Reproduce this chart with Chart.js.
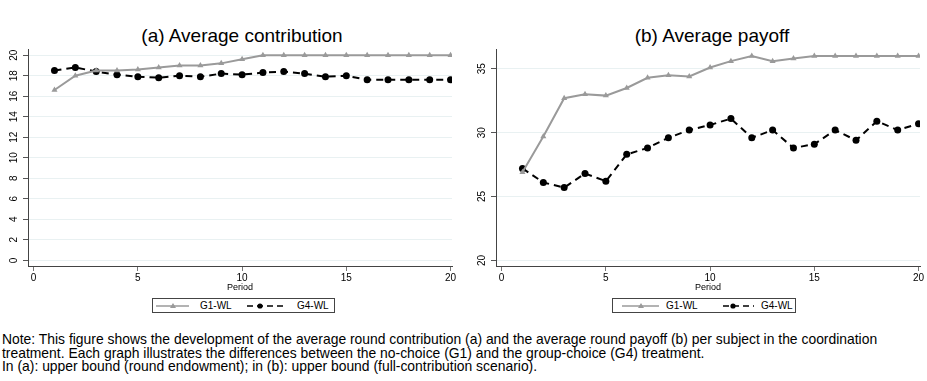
<!DOCTYPE html>
<html>
<head>
<meta charset="utf-8">
<script src="https://cdn.jsdelivr.net/npm/chart.js"></script>
<style>
    body { margin: 0; background: #fff; font-family: "Liberation Sans", Arial, sans-serif; }
    #wrap { position: relative; width: 927px; height: 381px; overflow: hidden; }
    .title { position: absolute; top: 26px; font-size: 19px; line-height: 19px; color: #000; white-space: nowrap; transform: translateX(-50%); }
    canvas { position: absolute; }
    .legend { position: absolute; top: 298px; height: 15px; border: 1px solid #444; box-sizing: border-box; }
    .legend svg { position: absolute; top: 0; }
    .legend span { position: absolute; top: 1px; font-size: 10px; line-height: 12px; color: #000; }
    #note { position: absolute; left: 2px; top: 333px; font-size: 13.9px; line-height: 13.5px; color: #000; white-space: nowrap; }
</style>
</head>
<body>
<div id="wrap">
    <div class="title" style="left: 242px;">(a) Average contribution</div>
    <div class="title" style="left: 712px;">(b) Average payoff</div>

    <canvas id="chartA" width="463" height="255" style="left: 0; top: 40px;"></canvas>
    <canvas id="chartB" width="464" height="255" style="left: 463px; top: 40px;"></canvas>

    <!-- 범례 (왼쪽) -->
    <div class="legend" style="left: 152px; width: 183px;">
        <svg width="140" height="14" style="left: 0;">
            <line x1="3" y1="7" x2="36" y2="7" stroke="#9a9a9a" stroke-width="1.5"/>
            <polygon points="20,4 23,9 17,9" fill="#9a9a9a"/>
            <line x1="94" y1="7" x2="130" y2="7" stroke="#000" stroke-width="1.5" stroke-dasharray="6,4"/>
            <circle cx="107" cy="7" r="2.6" fill="#000"/>
        </svg>
        <span style="left: 47px;">G1-WL</span>
        <span style="left: 144px;">G4-WL</span>
    </div>

    <!-- 범례 (오른쪽) -->
    <div class="legend" style="left: 612px; width: 184px;">
        <svg width="150" height="14" style="left: 0;">
            <line x1="9" y1="7" x2="46" y2="7" stroke="#9a9a9a" stroke-width="1.5"/>
            <polygon points="28,4 31,9 25,9" fill="#9a9a9a"/>
            <line x1="110" y1="7" x2="141" y2="7" stroke="#000" stroke-width="1.5" stroke-dasharray="6,4"/>
            <circle cx="120" cy="7" r="2.6" fill="#000"/>
        </svg>
        <span style="left: 53px;">G1-WL</span>
        <span style="left: 148px;">G4-WL</span>
    </div>

    <div id="note">
        Note: This figure shows the development of the average round contribution (a) and the average round payoff (b) per subject in the coordination<br>
        treatment. Each graph illustrates the differences between the no-choice (G1) and the group-choice (G4) treatment.<br>
        In (a): upper bound (round endowment); in (b): upper bound (full-contribution scenario).
    </div>
</div>

<script>
// 데이터
const periods = [1, 2, 3, 4, 5, 6, 7, 8, 9, 10, 11, 12, 13, 14, 15, 16, 17, 18, 19, 20];
const contribG1 = [16.6, 18.0, 18.5, 18.5, 18.6, 18.8, 19.0, 19.0, 19.2, 19.6, 20.0, 20.0, 20.0, 20.0, 20.0, 20.0, 20.0, 20.0, 20.0, 20.0];
const contribG4 = [18.5, 18.8, 18.4, 18.1, 17.9, 17.8, 18.0, 17.9, 18.2, 18.1, 18.3, 18.4, 18.2, 17.9, 18.0, 17.6, 17.6, 17.6, 17.6, 17.6];
const payoffG1 = [26.9, 29.7, 32.7, 33.0, 32.9, 33.5, 34.3, 34.5, 34.4, 35.1, 35.6, 36.0, 35.6, 35.8, 36.0, 36.0, 36.0, 36.0, 36.0, 36.0];
const payoffG4 = [27.2, 26.1, 25.7, 26.8, 26.2, 28.3, 28.8, 29.6, 30.2, 30.6, 31.1, 29.6, 30.2, 28.8, 29.1, 30.2, 29.4, 30.9, 30.2, 30.7];
const xTicks = [0, 5, 10, 15, 20];
const contribTicks = [0, 2, 4, 6, 8, 10, 12, 14, 16, 18, 20];
const payoffTicks = [20, 25, 30, 35];

const FONT = '"Liberation Sans", Arial, sans-serif';

function toPoints(values) {
    return periods.map((p, i) => ({ x: p, y: values[i] }));
}

function makeChart(id, g1, g4, yMin, yMax, yTicks, yWidth, rightPad) {
    const ctx = document.getElementById(id).getContext('2d');
    return new Chart(ctx, {
        type: 'line',
        data: {
            datasets: [
                {
                    label: 'G1-WL',
                    data: toPoints(g1),
                    borderColor: '#9a9a9a',
                    backgroundColor: '#9a9a9a',
                    borderWidth: 2,
                    pointStyle: 'triangle',
                    pointRadius: 3.5,
                    pointBorderWidth: 0,
                    tension: 0
                },
                {
                    label: 'G4-WL',
                    data: toPoints(g4),
                    borderColor: '#000',
                    backgroundColor: '#000',
                    borderWidth: 2,
                    borderDash: [7, 5],
                    pointStyle: 'circle',
                    pointRadius: 3.5,
                    pointBorderWidth: 0,
                    tension: 0
                }
            ]
        },
        options: {
            responsive: false,
            animation: false,
            devicePixelRatio: 1,
            layout: { padding: { top: 8, right: rightPad, left: 0, bottom: 0 } },
            plugins: {
                legend: { display: false },
                tooltip: { enabled: false }
            },
            scales: {
                x: {
                    type: 'linear',
                    min: -0.27,
                    max: 20.07,
                    afterBuildTicks: s => { s.ticks = xTicks.map(v => ({ value: v })); },
                    afterFit: s => { s.height = 29; },
                    border: { color: '#444', width: 1 },
                    grid: { drawOnChartArea: false, tickColor: '#777', tickLength: 5 },
                    ticks: { font: { family: FONT, size: 10 }, color: '#000', padding: 1, maxRotation: 0 },
                    title: { display: true, text: 'Period', font: { family: FONT, size: 9 }, color: '#000', padding: { top: 0, bottom: 2 } }
                },
                y: {
                    type: 'linear',
                    min: yMin,
                    max: yMax,
                    afterBuildTicks: s => { s.ticks = yTicks.map(v => ({ value: v })); },
                    afterFit: s => { s.width = yWidth; },
                    border: { color: '#444', width: 1 },
                    grid: { color: '#e9f1f2', tickColor: '#555', tickLength: 5 },
                    ticks: { font: { family: FONT, size: 10 }, color: '#000', padding: 3, minRotation: 90, maxRotation: 90, crossAlign: 'center' }
                }
            }
        }
    });
}

makeChart('chartA', contribG1, contribG4, -0.55, 20.6, contribTicks, 28, 11);
makeChart('chartB', payoffG1, payoffG4, 19.56, 36.55, payoffTicks, 33, 7);
</script>
</body>
</html>
